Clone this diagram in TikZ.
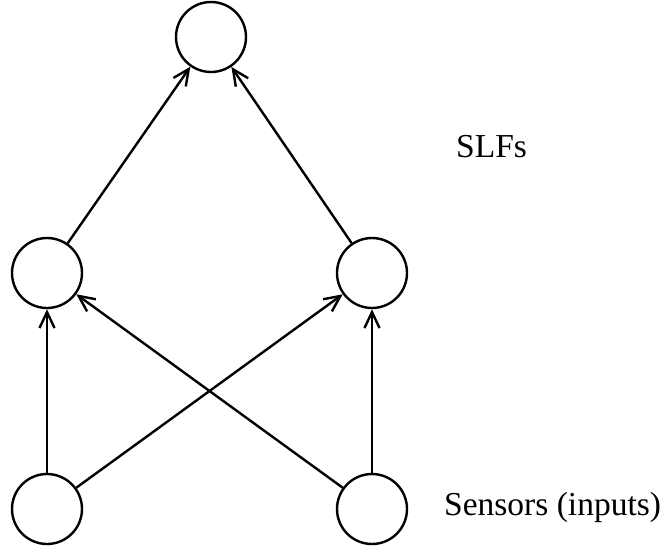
\documentclass[tikz,border=0pt]{standalone}
\usepackage{fontspec}
\setmainfont{Liberation Serif}
\usetikzlibrary{arrows.meta}
\begin{document}
\begin{tikzpicture}[x=1pt,y=-1pt,
  unit/.style={circle,draw,line width=2.4pt,minimum size=70pt,inner sep=0pt},
  link/.style={line width=2.4pt,-{Straight Barb[length=16pt,width=15pt,line width=2.4pt]}},
  lbl/.style={anchor=base west,inner sep=0pt,font=\fontsize{33.5}{40}\selectfont}]
  \useasboundingbox (0,0) rectangle (662,550);
  % output unit
  \node[unit] (top) at (211,37) {};
  % hidden layer
  \node[unit] (ml) at (47,273) {};
  \node[unit] (mr) at (372,273) {};
  % sensor inputs
  \node[unit] (bl) at (47,509) {};
  \node[unit] (br) at (372,509) {};
  % connections
  \draw[link] (bl) -- (ml);
  \draw[link] (bl) -- (mr);
  \draw[link] (br) -- (ml);
  \draw[link] (br) -- (mr);
  \draw[link] (ml) -- (top);
  \draw[link] (mr) -- (top);
  % labels
  \node[lbl] (slf) at (456,157) {SLFs};
  \node[lbl] (sens) at (444,515) {Sensors (inputs)};
\end{tikzpicture}
\end{document}
